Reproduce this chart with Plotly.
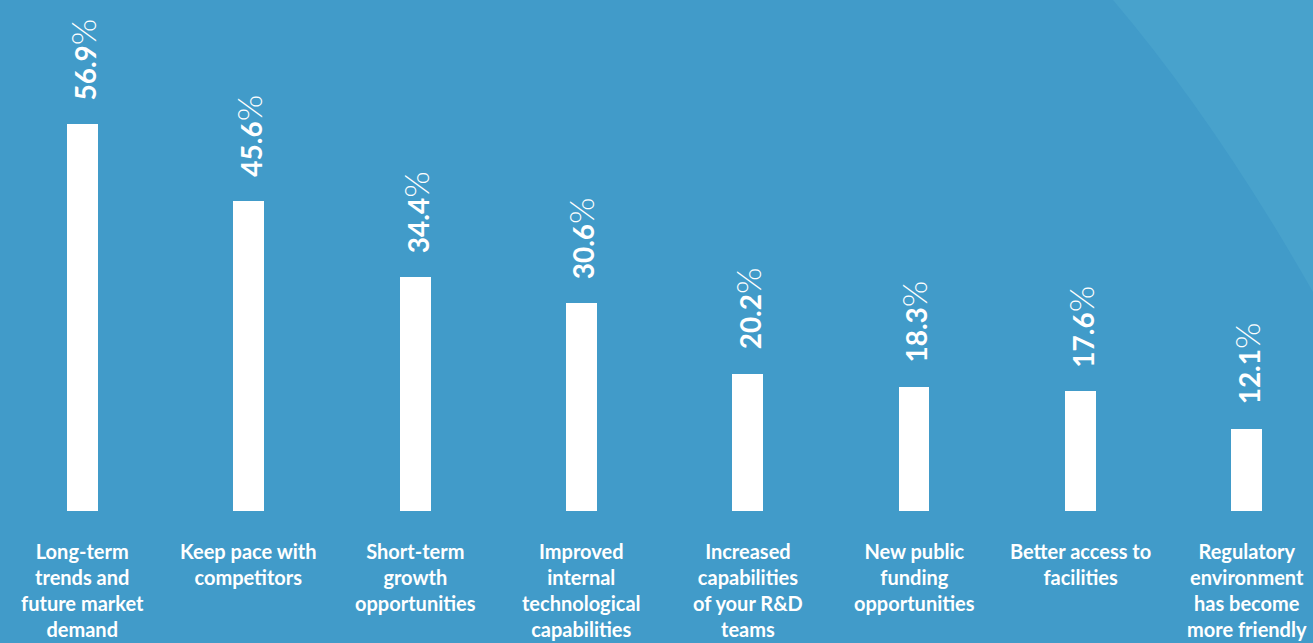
import plotly.graph_objects as go

# Survey results: drivers of increased R&D investment
categories = [
    "Long-term<br>trends and<br>future market<br>demand",
    "Keep pace with<br>competitors",
    "Short-term<br>growth<br>opportunities",
    "Improved<br>internal<br>technological<br>capabilities",
    "Increased<br>capabilities<br>of your R&D<br>teams",
    "New public<br>funding<br>opportunities",
    "Better access to<br>facilities",
    "Regulatory<br>environment<br>has become<br>more friendly",
]
values = [56.9, 45.6, 34.4, 30.6, 20.2, 18.3, 17.6, 12.1]

BG = "#419bc9"
LIGHT = "#48a2cc"
W, H = 1313, 643

xs = list(range(len(values)))

fig = go.Figure(
    go.Bar(
        x=xs,
        y=values,
        width=0.186,
        marker=dict(color="white", line=dict(width=0)),
        hoverinfo="skip",
    )
)

annotations = []
for i, v in enumerate(values):
    annotations.append(dict(
        x=i, y=v, xref="x", yref="y",
        text=f"<b>{v:.1f}</b><span style='font-size:34px;font-weight:300'>%</span>",
        textangle=-90,
        showarrow=False,
        xanchor="center", yanchor="bottom",
        yshift=22,
        font=dict(family="Lato", size=28, color="white"),
    ))
    annotations.append(dict(
        x=i, y=(H - 537) / H, xref="x", yref="paper",
        text=f"<b>{categories[i]}</b>",
        showarrow=False,
        xanchor="center", yanchor="top",
        align="center",
        font=dict(family="Lato", size=20, color="white"),
    ))

# Lighter swoosh in the top-right corner (paper coordinates, y measured upward)
def px(x, y):
    return f"{x / W:.5f},{1 - y / H:.5f}"

swoosh = (
    f"M {px(1113, 0)} Q {px(1215, 120)} {px(1313, 292)} "
    f"L {px(1313, 0)} Z"
)

fig.update_layout(
    width=W, height=H,
    margin=dict(l=0, r=0, t=0, b=0),
    paper_bgcolor=BG,
    plot_bgcolor="rgba(0,0,0,0)",
    showlegend=False,
    bargap=0,
    xaxis=dict(range=[-0.496, 7.399], domain=[0, 1], visible=False, fixedrange=True),
    yaxis=dict(range=[0, 511 / 6.8], domain=[(H - 511) / H, 1], visible=False, fixedrange=True),
    annotations=annotations,
    shapes=[dict(
        type="path", xref="paper", yref="paper", path=swoosh,
        fillcolor=LIGHT, line=dict(width=0), layer="below",
    )],
)

fig.write_html("out.html", config={"displayModeBar": False})
